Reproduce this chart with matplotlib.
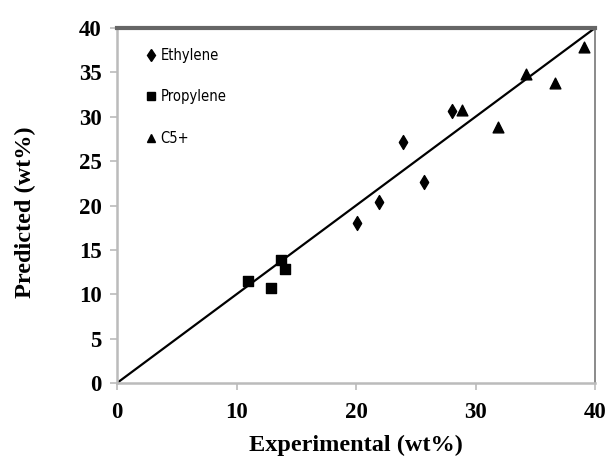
import matplotlib
matplotlib.use("Agg")
import matplotlib.pyplot as plt
from matplotlib.lines import Line2D

eth_x = [20.1, 21.95, 23.9, 25.7, 28.05]
eth_y = [18.0, 20.4, 27.2, 22.7, 30.6]
pro_x = [11.0, 12.85, 13.7, 14.1]
pro_y = [11.5, 10.7, 13.9, 12.8]
c5_x = [28.9, 31.9, 34.25, 36.65, 39.05]
c5_y = [30.8, 28.9, 34.8, 33.8, 37.9]
parity = [0, 40]
xticks = [0, 10, 20, 30, 40]
yticks = [0, 5, 10, 15, 20, 25, 30, 35, 40]

fig = plt.figure(figsize=(6.08, 4.63), dpi=100)
ax = fig.add_axes([117/608, 1-383/463, (595-117)/608, (383-28)/463])

ax.plot(parity, parity, color='black', lw=1.6, zorder=2)
ax.scatter(eth_x, eth_y, marker='d', s=50, color='black', zorder=3)
ax.scatter(pro_x, pro_y, marker='s', s=55, color='black', zorder=3)
ax.scatter(c5_x, c5_y, marker='^', s=60, color='black', zorder=3)

ax.set_xlim(0, 40)
ax.set_ylim(0, 40)
ax.set_xticks(xticks)
ax.set_yticks(yticks)

serif = ['Liberation Serif', 'DejaVu Serif']
for lab in ax.get_xticklabels() + ax.get_yticklabels():
    lab.set_fontfamily(serif)
    lab.set_fontweight('bold')
    lab.set_fontsize(16.5)

ax.tick_params(axis='both', direction='out', length=5, width=1.2, color='#bbbbbb')
ax.tick_params(axis='y', pad=6)
ax.tick_params(axis='x', pad=9)

ax.spines['top'].set_color('#666666')
ax.spines['top'].set_linewidth(3)
ax.spines['right'].set_color('#777777')
ax.spines['right'].set_linewidth(1.2)
ax.spines['left'].set_color('#bbbbbb')
ax.spines['left'].set_linewidth(1.8)
ax.spines['bottom'].set_color('#bbbbbb')
ax.spines['bottom'].set_linewidth(1.8)

ax.set_xlabel('Experimental (wt%)', fontfamily=serif, fontweight='bold', fontsize=17.5)
ax.set_ylabel('Predicted (wt%)', fontfamily=serif, fontweight='bold', fontsize=17.5)
ax.xaxis.set_label_coords(0.5, -0.145)
ax.yaxis.set_label_coords(-0.17, 0.48)

handles = [
    Line2D([], [], marker='d', color='black', ls='none', markersize=6),
    Line2D([], [], marker='s', color='black', ls='none', markersize=6),
    Line2D([], [], marker='^', color='black', ls='none', markersize=6),
]
leg = ax.legend(handles, ['Ethylene', 'Propylene', 'C5+'], loc='upper left',
                frameon=False,
                prop={'family': ['DejaVu Sans'], 'stretch': 'condensed', 'size': 10.5},
                labelspacing=1.8, handlelength=0.6, handletextpad=0.35,
                bbox_to_anchor=(0.035, 0.98))

fig.savefig('out.png', dpi=100)
